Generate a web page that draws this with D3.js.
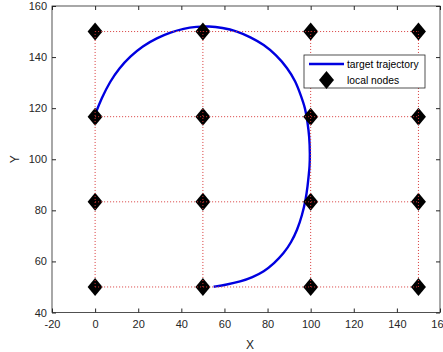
<!DOCTYPE html>
<html>
<head>
<meta charset="utf-8">
<script src="https://cdn.jsdelivr.net/npm/d3@7"></script>
<style>
  body { margin: 0; background: #fff; }
  svg { display: block; font-family: "Liberation Sans", Arial, sans-serif; }
</style>
</head>
<body>
<div id="chart"></div>
<script>
// Node grid positions
const nodeX = [0, 50, 100, 150];
const nodeY = [50, 83.33, 116.67, 150];

// Trajectory points
const trajX = [0, 3, 7, 11, 16.3, 22, 28.7, 35, 41.1, 47, 52.7, 59, 65.9, 72, 78.3, 84, 89.2, 93, 95.3, 97.5, 98.5, 99.4, 99.7, 99.5, 99.2, 98.6, 97.7, 96, 93.8, 91, 87.6, 83, 78.3, 73, 67.4, 61, 55];
const trajY = [117.5, 124, 130.5, 135.5, 140.3, 144.3, 147.5, 149.7, 151.2, 151.9, 152.1, 151.5, 150.1, 147.8, 144.9, 140.8, 135.8, 130.5, 125.3, 120, 114.8, 109, 101.8, 97, 94.6, 89.5, 84.1, 78, 72.4, 67.5, 63.2, 59.2, 56, 53.8, 52.1, 50.9, 50.1];

const xTicks = [-20, 0, 20, 40, 60, 80, 100, 120, 140, 160];
const yTicks = [40, 60, 80, 100, 120, 140, 160];

const W = 443, H = 352;
const margin = { top: 6, right: 3, bottom: 40, left: 52 };
const width = 440 - margin.left;
const height = 312.5 - margin.top;

const svg = d3.select("#chart").append("svg")
    .attr("width", W)
    .attr("height", H);

const g = svg.append("g")
    .attr("transform", `translate(${margin.left},${margin.top})`);

const x = d3.scaleLinear().domain([-20, 160]).range([0, width]);
const y = d3.scaleLinear().domain([40, 160]).range([height, 0]);

const axisColor = "#262626";

// Trajectory
const traj = trajX.map((v, i) => [v, trajY[i]]);
g.append("path")
    .datum(traj)
    .attr("fill", "none")
    .attr("stroke", "#0000e0")
    .attr("stroke-width", 2.4)
    .attr("d", d3.line().x(d => x(d[0])).y(d => y(d[1])).curve(d3.curveBasis));

// Nodes as diamonds
const diamond = (cx, cy, w, h) => `M${cx},${cy - h / 2}L${cx + w / 2},${cy}L${cx},${cy + h / 2}L${cx - w / 2},${cy}Z`;
const nodes = [];
nodeX.forEach(nx => nodeY.forEach(ny => nodes.push([nx, ny])));
g.selectAll(".node")
    .data(nodes)
    .join("path")
    .attr("class", "node")
    .attr("d", d => diamond(x(d[0]), y(d[1]), 15, 18))
    .attr("fill", "#000");

// Red dotted links between nodes
const redDash = { stroke: "#d83a3a", width: 1, dash: "1,2" };
nodeY.forEach(ny => {
    g.append("line")
        .attr("x1", x(nodeX[0])).attr("x2", x(nodeX[nodeX.length - 1]))
        .attr("y1", y(ny)).attr("y2", y(ny))
        .attr("stroke", redDash.stroke).attr("stroke-width", redDash.width)
        .attr("stroke-dasharray", redDash.dash);
});
nodeX.forEach(nx => {
    g.append("line")
        .attr("x1", x(nx)).attr("x2", x(nx))
        .attr("y1", y(nodeY[0])).attr("y2", y(nodeY[nodeY.length - 1]))
        .attr("stroke", redDash.stroke).attr("stroke-width", redDash.width)
        .attr("stroke-dasharray", redDash.dash);
});

// Axes (inward ticks, box with mirrored ticks)
const styleAxis = sel => {
    sel.select(".domain").remove();
    sel.selectAll(".tick line").attr("stroke", axisColor);
    sel.selectAll(".tick text")
        .attr("fill", axisColor)
        .style("font-size", "11px")
        .style("font-family", "'Liberation Sans', Arial, sans-serif");
};
const plain = d => String(d);

g.append("g")
    .attr("transform", `translate(0,${height})`)
    .call(d3.axisBottom(x).tickValues(xTicks).tickSize(-4).tickPadding(8).tickFormat(plain))
    .call(styleAxis);
g.append("g")
    .call(d3.axisLeft(y).tickValues(yTicks).tickSize(-4).tickPadding(5).tickFormat(plain))
    .call(styleAxis);
g.append("g")
    .call(d3.axisTop(x).tickValues(xTicks).tickSize(-4).tickFormat(""))
    .call(styleAxis);
g.append("g")
    .attr("transform", `translate(${width},0)`)
    .call(d3.axisRight(y).tickValues(yTicks).tickSize(-4).tickFormat(""))
    .call(styleAxis);

g.append("rect")
    .attr("width", width).attr("height", height)
    .attr("fill", "none")
    .attr("stroke", axisColor)
    .attr("stroke-width", 0.8);

// Axis labels
svg.append("text")
    .attr("x", margin.left + width / 2 + 4)
    .attr("y", 349)
    .attr("text-anchor", "middle")
    .attr("fill", axisColor)
    .style("font-size", "12px")
    .text("X");

svg.append("text")
    .attr("transform", `translate(19,${margin.top + height / 2}) rotate(-90)`)
    .attr("text-anchor", "middle")
    .attr("fill", axisColor)
    .style("font-size", "12px")
    .text("Y");

// Legend
const lg = svg.append("g").attr("transform", "translate(304,55)");
lg.append("rect")
    .attr("width", 121).attr("height", 33)
    .attr("fill", "#fff")
    .attr("stroke", axisColor)
    .attr("stroke-width", 0.8);
lg.append("line")
    .attr("x1", 5).attr("x2", 40)
    .attr("y1", 9).attr("y2", 9)
    .attr("stroke", "#0000e0").attr("stroke-width", 2.4);
lg.append("path")
    .attr("d", diamond(22.5, 25, 15, 18))
    .attr("fill", "#000");
lg.append("text")
    .attr("x", 43).attr("y", 12.5)
    .attr("fill", "#000")
    .style("font-size", "10.3px")
    .text("target trajectory");
lg.append("text")
    .attr("x", 43).attr("y", 28.5)
    .attr("fill", "#000")
    .style("font-size", "10.3px")
    .text("local nodes");
</script>
</body>
</html>
